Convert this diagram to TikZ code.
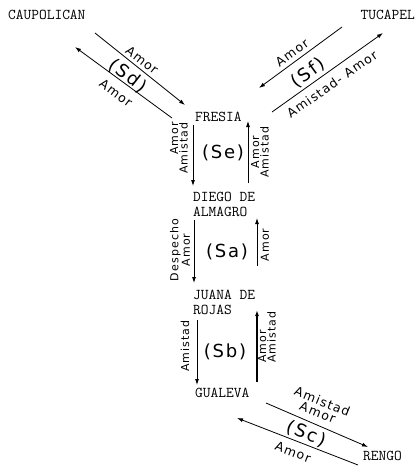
\documentclass[tikz,border=0pt]{standalone}
\usepackage{fontspec}
\newfontfamily\hand[LetterSpace=10]{DejaVu Sans}
\usetikzlibrary{arrows.meta}
\begin{document}
\begin{tikzpicture}[x=1pt,y=-1pt,
  person/.style={font=\ttfamily\fontsize{15}{15}\selectfont, inner sep=0pt},
  lbl/.style={font=\hand\fontsize{11}{9.5}\selectfont, inner sep=0pt},
  dlbl/.style={font=\hand\fontsize{12.5}{12}\selectfont, inner sep=0pt},
  big/.style={font=\hand\fontsize{18}{18}\selectfont, inner sep=0pt},
  rel/.style={line width=0.8pt, -{Latex[length=6pt,width=4pt]}},
]
\useasboundingbox (0,0) rectangle (419,466);
% persons
\node[person, anchor=west] (caup) at (8,15) {CAUPOLICAN};
\node[person, anchor=east] (tuc) at (415,15) {TUCAPEL};
\node[person, anchor=west] (fresia) at (195,117) {FRESIA};
\node[person, anchor=north west, align=left] (diego) at (193,191.5) {DIEGO DE\\ALMAGRO};
\node[person, anchor=north west, align=left] (juana) at (193,289.5) {JUANA DE\\ROJAS};
\node[person, anchor=west] (gualeva) at (195,393) {GUALEVA};
\node[person, anchor=west] (rengo) at (363,456) {RENGO};
% connector ends
\coordinate (d1a) at (95,33);   \coordinate (d1b) at (185,105);
\coordinate (d2a) at (172,118); \coordinate (d2b) at (75,47);
\coordinate (f1a) at (342,27);  \coordinate (f1b) at (259,88);
\coordinate (f2a) at (272,112); \coordinate (f2b) at (383,33);
\coordinate (e1a) at (193,125); \coordinate (e1b) at (193,186);
\coordinate (e2a) at (248,183); \coordinate (e2b) at (248,121);
\coordinate (a1a) at (194,220); \coordinate (a1b) at (194,283);
\coordinate (a2a) at (257,266); \coordinate (a2b) at (257,218);
\coordinate (b1a) at (197,320); \coordinate (b1b) at (197,385);
\coordinate (b2a) at (257,382); \coordinate (b2b) at (257,310);
\coordinate (c1a) at (266,403); \coordinate (c1b) at (368,447);
\coordinate (c2a) at (358,465); \coordinate (c2b) at (237,418);
% connectors
\draw[rel] (d1a) -- (d1b);
\draw[rel] (d2a) -- (d2b);
\draw[rel] (f1a) -- (f1b);
\draw[rel] (f2a) -- (f2b);
\draw[rel] (e1a) -- (e1b);
\draw[rel] (e2a) -- (e2b);
\draw[rel] (a1a) -- (a1b);
\draw[rel] (a2a) -- (a2b);
\draw[rel] (b1a) -- (b1b);
\draw[rel, line width=1.6pt] (b2a) -- (b2b);
\draw[rel] (c1a) -- (c1b);
\draw[rel] (c2a) -- (c2b);
% Sd
\node[dlbl, rotate=-38] (sd1) at (142,60) {Amor};
\node[big, rotate=-38] (sd) at (128,76) {(Sd)};
\node[dlbl, rotate=-37] (sd2) at (116,93) {Amor};
% Sf
\node[dlbl, rotate=36] (sf1) at (292,53) {Amor};
\node[big, rotate=36] (sf) at (308,73) {(Sf)};
\node[dlbl, rotate=35] (sf2) at (332,84) {Amistad- Amor};
% Se
\node[big] (se) at (223,153) {(Se)};
\node[lbl, rotate=90, align=right] (se1) at (179,148) {Amor\\Amistad};
\node[lbl, rotate=90, align=center] (se2) at (260,152) {Amor\\Amistad};
% Sa
\node[big] (sa) at (227,252) {(Sa)};
\node[lbl, rotate=90, align=center] (sa1) at (180,250) {Despecho\\Amor};
\node[lbl, rotate=90] (sa2) at (265,245) {Amor};
% Sb
\node[big] (sb) at (225,352) {(Sb)};
\node[lbl, rotate=90] (sb1) at (185,346) {Amistad};
\node[lbl, rotate=90, align=left] (sb2) at (267,337) {Amor\\Amistad};
% Sc
\node[dlbl, rotate=-22, align=center] (sc1) at (320,407) {Amistad\\Amor};
\node[big, rotate=-22] (sc) at (306,434) {(Sc)};
\node[dlbl, rotate=-21] (sc2) at (293,452) {Amor};
\end{tikzpicture}
\end{document}
